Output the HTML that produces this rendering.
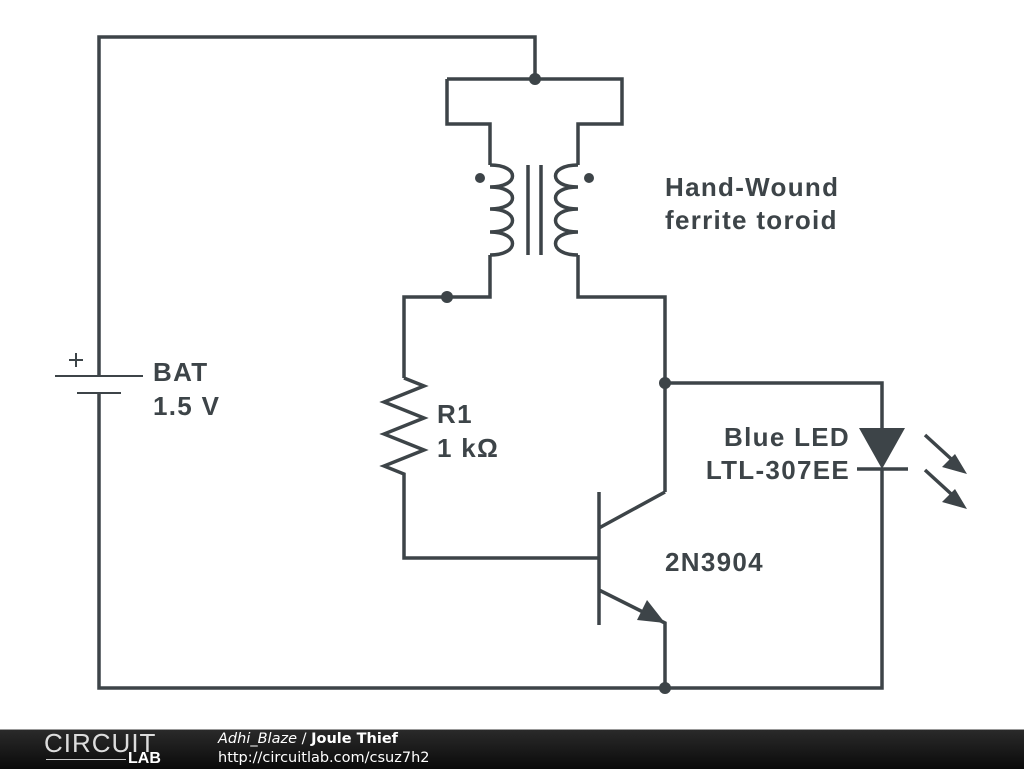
<!DOCTYPE html>
<html><head><style>
body{margin:0;width:1024px;height:768px;background:#fff;overflow:hidden;position:relative;font-family:"Liberation Sans",sans-serif}
.ft{position:absolute;left:0;top:729px;width:1024px;height:39px;background:linear-gradient(#2a2a2a,#0a0a0a);border-top:1px solid #999}
</style></head><body>
<svg width="1024" height="730" style="position:absolute;left:0;top:0">
<g fill="none" stroke="#3d4448" stroke-width="3.5">
<path d="M99,375V37H535V79M447,79H622V124H578V165M447,79V124H490V165"/>
<path d="M490,255V297H404V378"/>
<path d="M578,255V297H665V492M665,383H882V428M882,469V688H99V393"/>
<path d="M55,376H143M77,393H121M69,360h14M76,353v14" stroke-width="2"/>
<path d="M490,165c30,0 30,22 0,22c30,0 30,22 0,22c30,0 30,23 0,23c30,0 30,23 0,23"/>
<path d="M578,165c-30,0 -30,22 0,22c-30,0 -30,22 0,22c-30,0 -30,23 0,23c-30,0 -30,23 0,23"/>
<path d="M528,165V255M541,165V255"/>
<path d="M404,378l20,8l-40,16l40,16l-40,16l40,16l-40,16l20,8V558H599M599,492V625M599,528L665,492M599,590L665,623V688"/>
<path d="M857,469H908M925,435L960,467M925,470L960,502"/>
</g>
<g fill="#3d4448">
<circle cx="535" cy="79" r="6"/><circle cx="447" cy="297" r="6"/><circle cx="665" cy="383" r="6"/><circle cx="665" cy="688" r="6"/>
<circle cx="480" cy="178" r="5"/><circle cx="589" cy="178" r="5"/>
<path d="M859,428H905L882,469Z"/>
<path d="M967,474L942,467L955,454Z M967,509L942,502L955,489Z"/>
<path d="M665,623L637,620L647,600Z"/>
</g>
<g font-family="Liberation Sans,sans-serif" font-weight="bold" font-size="26" letter-spacing="1.3" fill="#3d4448">
<text x="153" y="381">BAT</text><text x="153" y="415">1.5 V</text>
<text x="437" y="423">R1</text><text x="437" y="457">1 kΩ</text>
<text x="665" y="196">Hand-Wound</text><text x="665" y="229">ferrite toroid</text>
<text x="850" y="446" text-anchor="end">Blue LED</text><text x="850" y="479" text-anchor="end">LTL-307EE</text>
<text x="665" y="571">2N3904</text>
</g>
</svg>
<div class="ft">
<div style="position:absolute;left:44px;top:0;color:#ddd;font-size:26px;letter-spacing:1px;line-height:26px">CIRCUIT</div>
<div style="position:absolute;left:128px;top:21px;color:#fff;font-size:16px;font-weight:bold;line-height:16px">LAB</div>
<div style="position:absolute;left:46px;top:29px;width:80px;border-top:1px solid #ccc"></div>
<div style="position:absolute;left:218px;top:0;color:#fff;font-family:'DejaVu Sans',sans-serif;font-size:14.5px;line-height:19px"><i>Adhi_Blaze</i> / <b>Joule Thief</b><br>http://circuitlab.com/csuz7h2</div>
</div>
</body></html>
